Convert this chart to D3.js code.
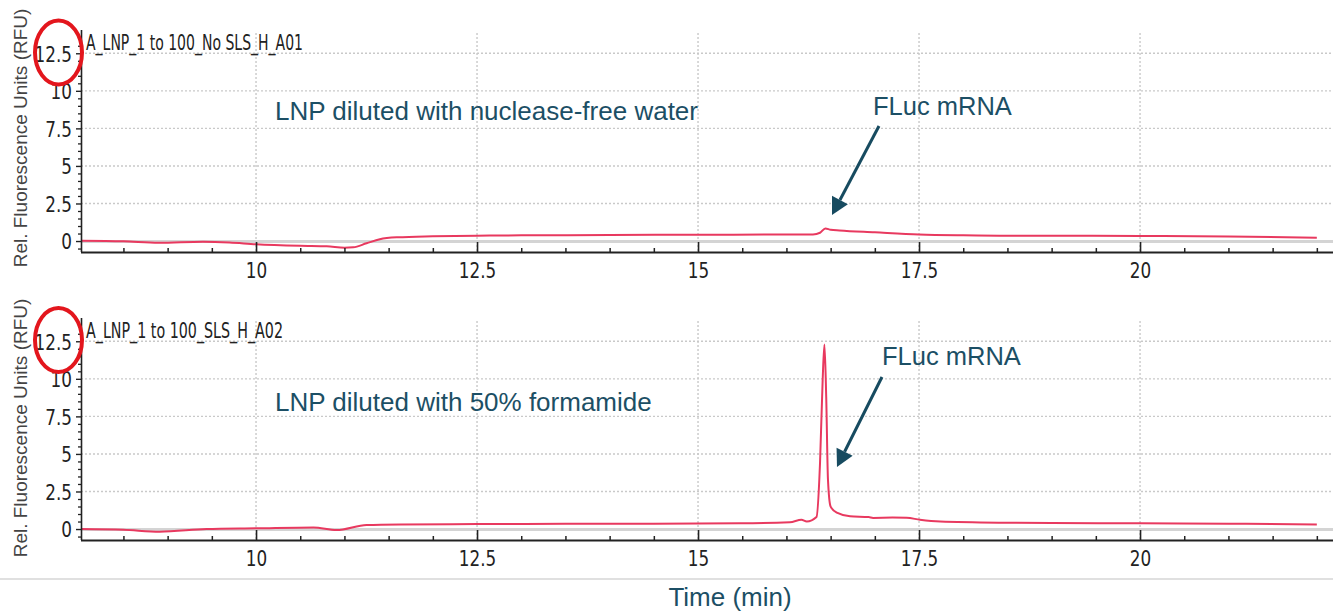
<!DOCTYPE html>
<html>
<head>
<meta charset="utf-8">
<script src="https://cdn.jsdelivr.net/npm/d3@7"></script>
<style>
  html, body { margin: 0; padding: 0; background: #fff; }
  svg { display: block; }
</style>
</head>
<body>
<svg id="chart" width="1333" height="613"></svg>
<script>
// ---------------- data ----------------
const xMajorTicks = [10, 12.5, 15, 17.5, 20];
const yMajorTicks = [0, 2.5, 5, 7.5, 10, 12.5];
const yTickLabels = ["0", "2.5", "5", "7.5", "10", "12.5"];
const xTickLabels = ["10", "12.5", "15", "17.5", "20"];

const panelTitles = ["A_LNP_1 to 100_No SLS_H_A01", "A_LNP_1 to 100_SLS_H_A02"];
const panelNotes = ["LNP diluted with nuclease-free water", "LNP diluted with 50% formamide"];
const peakLabel = "FLuc mRNA";
const yAxisTitle = "Rel. Fluorescence Units (RFU)";
const xAxisTitle = "Time (min)";

// Trace A01 (nuclease-free water)
const timeA = [8.02, 8.5, 8.9, 9.4, 9.7, 10.0, 10.5, 10.8, 11.0, 11.1, 11.25, 11.4, 11.6, 12.0, 12.5, 13.0, 14.0, 15.0, 15.8, 16.3, 16.38, 16.44, 16.5, 16.6, 17.0, 17.5, 18.0, 18.5, 19.0, 20.0, 21.0, 22.0];
const rfuA  = [0.02, -0.02, -0.12, -0.05, -0.1, -0.22, -0.32, -0.35, -0.45, -0.42, -0.15, 0.12, 0.25, 0.32, 0.36, 0.38, 0.4, 0.42, 0.43, 0.44, 0.55, 0.84, 0.75, 0.7, 0.58, 0.44, 0.38, 0.35, 0.35, 0.34, 0.3, 0.22];

// Trace A02 (50% formamide)
const timeB = [8.02, 8.5, 8.91, 9.44, 10.0, 10.65, 10.91, 11.25, 11.63, 12.5, 13.5, 14.5, 15.48, 16.04, 16.17, 16.23, 16.34, 16.38, 16.41, 16.43, 16.45, 16.47, 16.5, 16.57, 16.72, 16.93, 16.98, 17.2, 17.36, 17.51, 17.74, 18.5, 19.0, 20.0, 21.0, 22.0];
const rfuB  = [0.0, -0.05, -0.18, 0.0, 0.05, 0.11, -0.07, 0.27, 0.31, 0.33, 0.35, 0.36, 0.38, 0.45, 0.62, 0.5, 0.8, 4.4, 9.95, 12.28, 8.8, 3.27, 1.49, 1.09, 0.85, 0.8, 0.74, 0.76, 0.75, 0.62, 0.5, 0.42, 0.4, 0.38, 0.36, 0.31];

// ---------------- layout ----------------
const svg = d3.select("#chart");
const W = 1333;
const left = 81;
const x = d3.scaleLinear().domain([8.02, 22.2]).range([left, left + 14.18 * 88.4]);
const yDomain = [-0.73, 13.85];
const panels = [
  { top: 33, bottom: 252, time: timeA, rfu: rfuA, title: panelTitles[0], note: panelNotes[0],
    titleLen: 217, noteY: 120, labelY: 138, peak: { tx: 873, ty: 115, x1: 879, y1: 126, x2: 832, y2: 215 }, circle: [58.5, 52.5] },
  { top: 321, bottom: 540, time: timeB, rfu: rfuB, title: panelTitles[1], note: panelNotes[1],
    titleLen: 197, noteY: 411, labelY: 428, peak: { tx: 882, ty: 365, x1: 882, y1: 377, x2: 837, y2: 467 }, circle: [58.5, 340] }
];

const narrow = "'Liberation Sans Narrow', 'DejaVu Sans Condensed', sans-serif";
const sans = "'Liberation Sans', Arial, sans-serif";
const teal = "#1c4f65";
const traceColor = "#e8395f";

function squeeze(sel, f) {
  sel.each(function () {
    const len = this.getComputedTextLength();
    d3.select(this).attr("textLength", len * f).attr("lengthAdjust", "spacingAndGlyphs");
  });
}

panels.forEach(p => {
  const y = d3.scaleLinear().domain(yDomain).range([p.bottom, p.top]);
  const g = svg.append("g");

  // horizontal dotted grid
  g.append("g").selectAll("line").data(yMajorTicks.filter(v => v > 0)).join("line")
    .attr("x1", left).attr("x2", W).attr("y1", d => y(d)).attr("y2", d => y(d))
    .attr("stroke", "#c9c9c9").attr("stroke-width", 1.4).attr("stroke-dasharray", "2,2");
  // vertical dotted grid
  g.append("g").selectAll("line").data(xMajorTicks).join("line")
    .attr("x1", d => x(d)).attr("x2", d => x(d)).attr("y1", p.top).attr("y2", p.bottom)
    .attr("stroke", "#c9c9c9").attr("stroke-width", 1.4).attr("stroke-dasharray", "2,2");
  // zero baseline
  g.append("line").attr("x1", left).attr("x2", W).attr("y1", y(0) + 0.5).attr("y2", y(0) + 0.5)
    .attr("stroke", "#d4d4d4").attr("stroke-width", 3);

  // trace
  const pts = p.time.map((t, i) => [t, p.rfu[i]]);
  g.append("path").datum(pts)
    .attr("fill", "none").attr("stroke", traceColor).attr("stroke-width", 2)
    .attr("d", d3.line().x(d => x(d[0])).y(d => y(d[1])).curve(d3.curveMonotoneX));

  // x axis minor ticks
  const minor = d3.range(8.5, 22.01, 0.5).filter(v => !xMajorTicks.includes(v));
  g.append("g").attr("transform", `translate(0,${p.bottom})`)
    .call(d3.axisBottom(x).tickValues(minor).tickSizeInner(-4).tickSizeOuter(0).tickFormat(""))
    .call(a => a.select(".domain").remove())
    .call(a => a.selectAll("line").attr("stroke", "#222").attr("stroke-width", 1.5));
  // x axis major
  const xa = g.append("g").attr("transform", `translate(0,${p.bottom})`)
    .call(d3.axisBottom(x).tickValues(xMajorTicks).tickSizeInner(-10).tickSizeOuter(0)
      .tickFormat((d, i) => xTickLabels[i]));
  xa.select(".domain").attr("stroke", "#222").attr("stroke-width", 2).attr("d", `M${left},0.5H${W}`);
  xa.selectAll(".tick line").attr("stroke", "#222").attr("stroke-width", 1.6).attr("y2", -10).attr("y1", 1);
  xa.selectAll(".tick text").attr("y", 26).attr("dy", 0)
    .attr("font-family", narrow).attr("font-size", 22).attr("fill", "#222")
    .call(squeeze, 0.85);

  // y axis minor ticks
  const yMinor = d3.range(-0.5, 13.6, 0.5).filter(v => !yMajorTicks.includes(v));
  g.append("g").attr("transform", `translate(${left},0)`)
    .call(d3.axisLeft(y).tickValues(yMinor).tickSizeInner(3).tickSizeOuter(0).tickFormat(""))
    .call(a => a.select(".domain").remove())
    .call(a => a.selectAll("line").attr("stroke", "#222").attr("stroke-width", 1.3));
  // y axis major
  const ya = g.append("g").attr("transform", `translate(${left},0)`)
    .call(d3.axisLeft(y).tickValues(yMajorTicks).tickSizeInner(5).tickSizeOuter(0).tickPadding(4)
      .tickFormat((d, i) => yTickLabels[i]));
  ya.select(".domain").attr("stroke", "#222").attr("stroke-width", 1.6).attr("d", `M0.5,${p.top - 3}V${p.bottom}`);
  ya.selectAll(".tick line").attr("stroke", "#222").attr("stroke-width", 1.4);
  ya.selectAll(".tick text").attr("font-family", narrow).attr("font-size", 22).attr("fill", "#222")
    .attr("dy", "0.36em")
    .call(squeeze, 0.85);

  // panel title
  g.append("text").attr("x", 86).attr("y", p.top + 17).text(p.title)
    .attr("font-family", narrow).attr("font-size", 21).attr("fill", "#222")
    .attr("textLength", p.titleLen).attr("lengthAdjust", "spacingAndGlyphs");

  // y axis title
  g.append("text").text(yAxisTitle)
    .attr("transform", `translate(27,${p.labelY}) rotate(-90)`)
    .attr("text-anchor", "middle").attr("font-family", sans).attr("font-size", 19).attr("fill", "#444");

  // annotation
  g.append("text").attr("x", 275).attr("y", p.noteY).text(p.note)
    .attr("font-family", sans).attr("font-size", 26).attr("fill", teal);
  g.append("text").attr("x", p.peak.tx).attr("y", p.peak.ty).text(peakLabel)
    .attr("font-family", sans).attr("font-size", 25.5).attr("fill", teal);

  // arrow
  const a = p.peak;
  const ang = Math.atan2(a.y2 - a.y1, a.x2 - a.x1);
  const hl = 17, hw = 9;
  const bx = a.x2 - hl * Math.cos(ang), by = a.y2 - hl * Math.sin(ang);
  g.append("line").attr("x1", a.x1).attr("y1", a.y1).attr("x2", bx).attr("y2", by)
    .attr("stroke", "#174b60").attr("stroke-width", 3);
  const nx = -Math.sin(ang), ny = Math.cos(ang);
  g.append("polygon")
    .attr("points", [[a.x2, a.y2], [bx + nx * hw, by + ny * hw], [bx - nx * hw, by - ny * hw]].map(q => q.join(",")).join(" "))
    .attr("fill", "#174b60");

  // red highlight circle
  g.append("ellipse").attr("cx", p.circle[0]).attr("cy", p.circle[1]).attr("rx", 23.5).attr("ry", 32)
    .attr("fill", "none").attr("stroke", "#e3161d").attr("stroke-width", 4);
});

// bottom separator and x axis title
svg.append("line").attr("x1", 0).attr("x2", W).attr("y1", 579).attr("y2", 579)
  .attr("stroke", "#d6d6d6").attr("stroke-width", 1.5);
svg.append("text").attr("x", 730).attr("y", 606).attr("text-anchor", "middle").text(xAxisTitle)
  .attr("font-family", sans).attr("font-size", 26).attr("fill", teal);
</script>
</body>
</html>
